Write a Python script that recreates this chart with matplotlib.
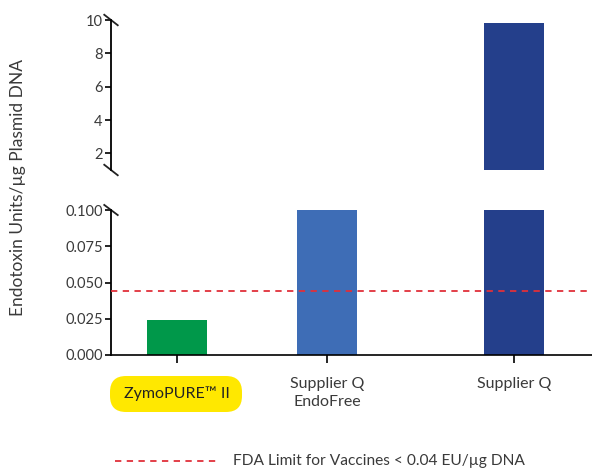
import numpy as np
import matplotlib.pyplot as plt
from matplotlib.patches import FancyBboxPatch

# data
categories = ['ZymoPURE\u2122 II', 'Supplier Q\nEndoFree', 'Supplier Q']
values = [0.024, 0.1, 9.8]
colors = ['#00984a', '#3e6db6', '#243f8b']
fda_limit = 0.044
top_ticks = [2, 4, 6, 8, 10]
bottom_ticks = [0.0, 0.025, 0.05, 0.075, 0.1]

positions = [0, 1, 2.25]
bar_w = 0.4
xlim = (-0.44, 2.767)
text_c = '#3a3a3a'
plt.rcParams['font.family'] = ['Lato', 'DejaVu Sans']

fig = plt.figure(figsize=(5.92, 4.68), dpi=100)
ax_lo = fig.add_axes([111/592, 113/468, 481/592, 145/468])
ax_hi = fig.add_axes([111/592, 298/468, 481/592, 150/468])

for ax in (ax_lo, ax_hi):
    ax.bar(positions, values, width=bar_w, color=colors, zorder=2)
    ax.set_xlim(*xlim)
    ax.set_facecolor('none')
    for s in ('top', 'right'):
        ax.spines[s].set_visible(False)
    ax.spines['left'].set_linewidth(1.3)
    ax.tick_params(axis='y', length=4, width=1.2, labelsize=10.5, labelcolor=text_c, pad=2)

# lower panel
ax_lo.set_ylim(0, 0.1)
ax_lo.set_yticks(bottom_ticks)
ax_lo.set_yticklabels([f'{t:.3f}' for t in bottom_ticks])
ax_lo.spines['bottom'].set_linewidth(1.2)
ax_lo.axhline(fda_limit, color='#e0303a', ls=(0, (3.5, 3)), lw=1.3, zorder=3, clip_on=False)
ax_lo.set_xticks(positions)
ax_lo.set_xticklabels(['', categories[1], categories[2]], linespacing=1.35)
ax_lo.tick_params(axis='x', length=6, width=1.2, labelsize=11.5, labelcolor=text_c, pad=10)

# highlighted label
fig.patches.append(FancyBboxPatch((1.10, 0.56), 1.32, 0.36, transform=fig.dpi_scale_trans,
                                  boxstyle='round,pad=0,rounding_size=0.16',
                                  fc='#ffe800', ec='none', zorder=-1))
fig.text(177/592, 1 - 394/468, categories[0], ha='center', va='center', fontsize=11.5,
         color='#222222', zorder=5)

# upper panel
ax_hi.set_ylim(1.0, 10)
ax_hi.set_yticks(top_ticks)
ax_hi.spines['bottom'].set_visible(False)
ax_hi.set_xticks([])

# break marks
kw = dict(color='#222222', lw=1.3, clip_on=False)
dx, dy = 0.014, 0.035
ax_lo.plot([-dx, dx], [1 + dy, 1 - dy], transform=ax_lo.transAxes, **kw)
ax_hi.plot([-dx, dx], [1 + dy, 1 - dy], transform=ax_hi.transAxes, **kw)
ax_hi.plot([-dx, dx], [dy, -dy], transform=ax_hi.transAxes, **kw)

fig.text(18/592, 1 - 188/468, 'Endotoxin Units/\u00b5g Plasmid DNA', rotation=90,
         ha='center', va='center', fontsize=12.5, color=text_c)

# legend
fig.lines.append(plt.Line2D([115/592, 218/592], [7/468, 7/468], transform=fig.transFigure,
                            color='#e0303a', ls=(0, (3.5, 3)), lw=1.3))
fig.text(233/592, 7/468, 'FDA Limit for Vaccines < 0.04 EU/\u00b5g DNA', ha='left',
         va='center', fontsize=11.2, color=text_c)

fig.savefig('out.png', dpi=100)
